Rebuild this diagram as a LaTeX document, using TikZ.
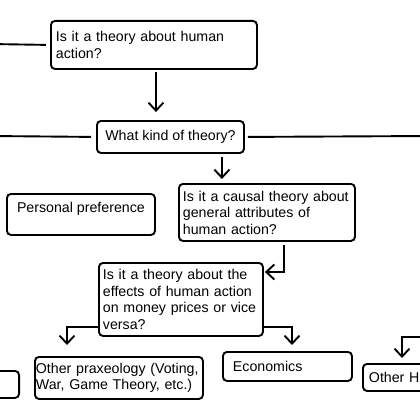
\documentclass[tikz,border=0pt]{standalone}
\usepackage{fontspec}
\setmainfont{Liberation Sans}
\usetikzlibrary{arrows.meta,positioning,calc}

\begin{document}
\begin{tikzpicture}[
    x=1pt, y=-1pt,
    box/.style={draw, line width=1.9pt, rounded corners=4pt, anchor=north west,
      inner xsep=5pt, inner ysep=0pt, align=left, font=\fontsize{14.2}{16.5}\selectfont},
    link/.style={line width=1.9pt},
    arrow/.style={link, -{Straight Barb[length=8pt,width=15pt]}}
  ]
    \useasboundingbox (0,0) rectangle (420,420);
    \clip (0,0) rectangle (420,420);
    \node[box, text width=196pt, minimum height=48pt] (human) at (50,20) {Is it a theory about human\\action?};
    \node[box, align=center, minimum width=147pt, minimum height=32pt] (kind) at (96,120) {What kind of theory?};
    \node[box, align=center, minimum width=148pt, minimum height=41pt,
      text height=13pt, text depth=16pt, inner ysep=6pt] (pref) at (6,193) {Personal preference};
    \node[box, inner xsep=4pt, text width=168pt, minimum height=57pt] (causal) at (178,183) {Is it a causal theory about\\general attributes of\\human action?};
    \node[box, inner xsep=4pt, text width=156pt, minimum height=73pt] (money) at (98,262) {Is it a theory about the\\effects of human action\\on money prices or vice\\versa?};
    \node[box, inner xsep=1pt, text width=166pt, minimum height=42pt] (prax) at (34,356) {Other praxeology (Voting,\\War, Game Theory, etc.)};
    \node[box, inner xsep=10pt, text width=109pt, minimum height=29pt] (econ) at (222,351) {Economics};
    \node[box, inner xsep=6pt, text width=120pt, minimum height=27pt] (hist) at (362,363) {Other Hi};
    \node[box, anchor=north east, minimum width=60pt, minimum height=27pt] (other) at (20,370) {};
    \coordinate (inA) at (-10,44);
    \coordinate (inB) at (-10,136);
    \coordinate (outB) at (430,136);
    \coordinate (inC) at (430,337);
    \draw[link, shorten >=4pt] (inA) -- (human.west);
    \draw[link, shorten >=5pt] (inB) -- (kind.west);
    \draw[link, shorten <=3pt] (kind.east) -- (outB);
    \draw[arrow, shorten <=2pt, shorten >=8pt] ([xshift=2pt]human.south) -- ([xshift=2pt]human.south |- kind.north);
    \draw[arrow, shorten <=3pt, shorten >=4pt] ([xshift=-23pt]kind.south east) -- ([xshift=-23pt]kind.south east |- causal.north);
    \draw[arrow, shorten <=3pt, shorten >=1pt] ([xshift=17pt]causal.south) |- ([yshift=-10pt]money.north east);
    \draw[arrow, shorten >=11pt] ([yshift=10pt]money.south west) -| ([xshift=33pt]prax.north west);
    \draw[arrow, shorten >=6pt] ([yshift=10pt]money.south east) -| ([xshift=70pt]econ.north west);
    \draw[arrow, shorten >=5pt] (inC) -| ([xshift=40pt]hist.north west);
  \end{tikzpicture}
\end{document}
